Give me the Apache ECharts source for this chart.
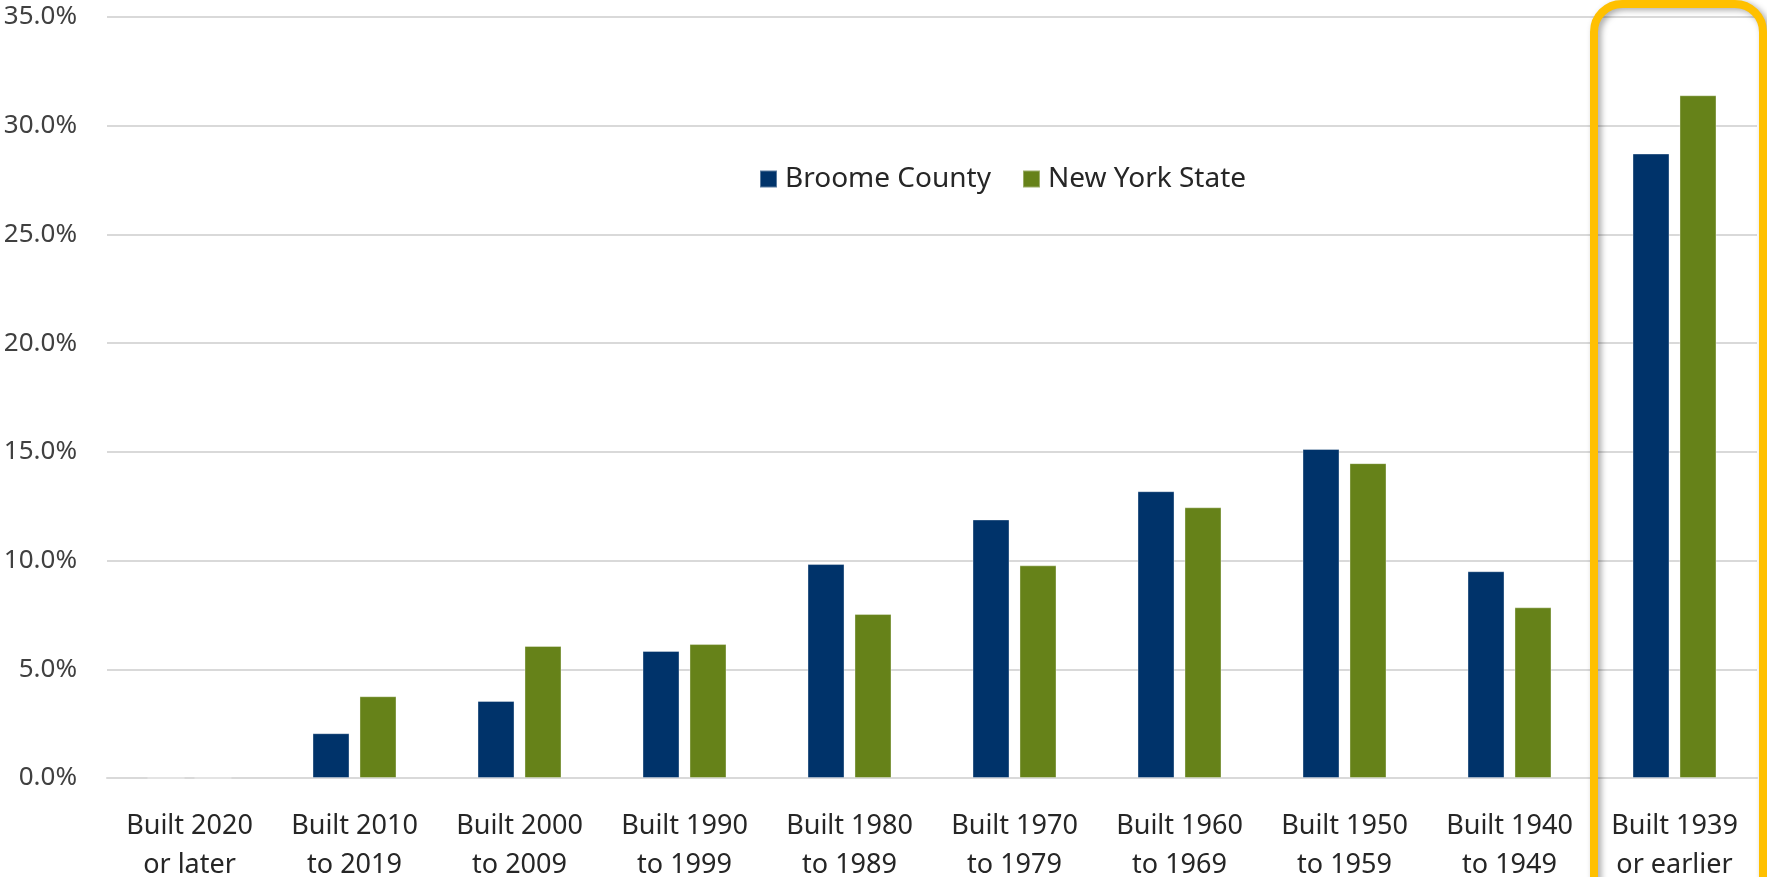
<!DOCTYPE html>
<html>
<head>
<meta charset="utf-8">
<style>
html,body{margin:0;padding:0;background:#fff;}
#chart{width:1767px;height:877px;}
</style>
<script src="https://cdn.jsdelivr.net/npm/echarts@6/dist/echarts.min.js"></script>
</head>
<body>
<div id="chart"></div>
<script>
const categories = [
  "Built 2020\nor later", "Built 2010\nto 2019", "Built 2000\nto 2009", "Built 1990\nto 1999",
  "Built 1980\nto 1989", "Built 1970\nto 1979", "Built 1960\nto 1969", "Built 1950\nto 1959",
  "Built 1940\nto 1949", "Built 1939\nor earlier"
];
const broomeCounty = [0.0, 2.06, 3.54, 5.84, 9.84, 11.89, 13.19, 15.13, 9.51, 28.72];
const newYorkState = [0.0, 3.76, 6.07, 6.16, 7.54, 9.78, 12.45, 14.48, 7.85, 31.40];
const yTicks = { min: 0, max: 35, interval: 5 };
const highlightIndex = 9;

const FONT = "Noto Sans";
const chart = echarts.init(document.getElementById('chart'), null, { renderer: 'canvas' });

const option = {
  animation: false,
  backgroundColor: '#ffffff',
  textStyle: { fontFamily: FONT },
  grid: { left: 107, right: 10, top: 17, bottom: 99, containLabel: false, outerBoundsMode: 'none' },
  legend: {
    data: ['Broome County', 'New York State'],
    left: 754, top: 160,
    icon: 'rect', itemWidth: 17, itemHeight: 17, itemGap: 31,
    textStyle: { fontFamily: FONT, fontSize: 28, color: '#262626', padding: [0, 0, 0, 3] }
  },
  xAxis: {
    type: 'category',
    data: categories,
    axisLine: { show: true, lineStyle: { color: '#d9d9d9', width: 2 } },
    axisTick: { show: false },
    axisLabel: {
      interval: 0, margin: 29, fontFamily: FONT, fontSize: 27, lineHeight: 39, color: '#262626'
    },
    splitLine: { show: false }
  },
  yAxis: {
    type: 'value',
    min: yTicks.min, max: yTicks.max, interval: yTicks.interval,
    axisLine: { show: false },
    axisTick: { show: false },
    axisLabel: {
      margin: 30, fontFamily: FONT, fontSize: 26, color: '#404040',
      formatter: v => v.toFixed(1) + '%'
    },
    splitLine: { lineStyle: { color: '#d9d9d9', width: 2 } }
  },
  series: [
    {
      name: 'Broome County', type: 'bar', data: broomeCounty,
      barWidth: 37, barGap: '27%',
      itemStyle: { color: '#00336a', borderColor: 'rgba(255,255,255,0.35)', borderWidth: 1 }
    },
    {
      name: 'New York State', type: 'bar', data: newYorkState,
      barWidth: 37, barGap: '27%',
      itemStyle: { color: '#668219', borderColor: 'rgba(255,255,255,0.35)', borderWidth: 1 }
    }
  ]
};
chart.setOption(option);

// Highlight box around the last category, positioned from the axis scale
const c0 = chart.convertToPixel({ xAxisIndex: 0 }, highlightIndex - 1);
const c1 = chart.convertToPixel({ xAxisIndex: 0 }, highlightIndex);
const band = c1 - c0;
const boundary = c1 - band / 2;
chart.setOption({
  graphic: [{
    type: 'rect',
    z: 100,
    shape: { x: boundary + 2, y: 4, width: band + 4, height: 1000, r: 28 },
    style: {
      fill: 'none', stroke: '#ffc000', lineWidth: 8,
      shadowColor: 'rgba(0,0,0,0.35)', shadowBlur: 6, shadowOffsetX: 3, shadowOffsetY: 2
    }
  }]
});
</script>
</body>
</html>
